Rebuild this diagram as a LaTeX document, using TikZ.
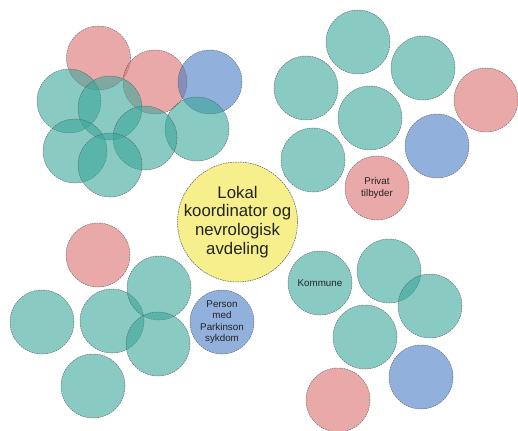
\documentclass[tikz,border=0pt]{standalone}
\usepackage{fontspec}
\setmainfont{Liberation Sans}
\definecolor{tealc}{RGB}{58,166,154}
\definecolor{pinkc}{RGB}{220,112,112}
\definecolor{bluec}{RGB}{72,124,197}
\definecolor{yellowc}{RGB}{246,239,140}
\definecolor{edgec}{RGB}{85,90,90}
\definecolor{txtc}{RGB}{35,35,35}
\tikzset{
  blob/.style={circle, minimum size=64pt, inner sep=-5pt, draw=edgec,
    line width=0.5pt, dash pattern=on 1.6pt off 0.9pt, fill opacity=0.6,
    draw opacity=0.8, text opacity=1, text=txtc, align=center,
    font=\fontsize{9.8}{11.5}\selectfont},
  tealb/.style={blob, fill=tealc},
  pinkb/.style={blob, fill=pinkc},
  blueb/.style={blob, fill=bluec},
  centre/.style={circle, minimum size=120pt, inner sep=-15pt, draw=edgec,
    line width=0.5pt, dash pattern=on 1.6pt off 0.9pt, fill=yellowc,
    text=txtc, align=center, font=\fontsize{16.8}{18.8}\selectfont}
}
\begin{document}
\begin{tikzpicture}[x=1pt,y=-1pt]
\useasboundingbox (0,0) rectangle (518,430);
% top-left cluster
\node[pinkb] (tl1) at (98.5,58) {};
\node[pinkb] (tl2) at (155,82) {};
\node[blueb] (tl3) at (210,82) {};
\node[tealb] (tl4) at (69,101) {};
\node[tealb] (tl5) at (110,108) {};
\node[tealb] (tl6) at (197,129) {};
\node[tealb] (tl7) at (145,138) {};
\node[tealb] (tl8) at (75,151) {};
\node[tealb] (tl9) at (110,165) {};
% top-right cluster
\node[tealb] (tr1) at (358,42) {};
\node[tealb] (tr2) at (306,88) {};
\node[tealb] (tr3) at (423,68) {};
\node[tealb] (tr4) at (370,118) {};
\node[pinkb] (tr5) at (486,100) {};
\node[tealb] (tr6) at (313,160) {};
\node[blueb] (tr7) at (437,146) {};
\node[pinkb] (tr8) at (377,188) {Privat\\tilbyder};
% bottom-left cluster
\node[pinkb] (bl1) at (98,255) {};
\node[tealb] (bl2) at (42,322) {};
\node[tealb] (bl3) at (112,321) {};
\node[tealb] (bl4) at (159,288) {};
\node[tealb] (bl5) at (158,344) {};
\node[tealb] (bl6) at (93,386) {};
\node[blueb] (bl7) at (222,322) {Person\\med\\Parkinson\\sykdom};
% bottom-right cluster
\node[tealb] (br1) at (320,283) {Kommune};
\node[tealb] (br2) at (389,271) {};
\node[tealb] (br3) at (430,306) {};
\node[tealb] (br4) at (365,337) {};
\node[blueb] (br5) at (421,377) {};
\node[pinkb] (br6) at (338,400) {};
% centre
\node[centre] (c) at (237.5,222) {Lokal\\koordinator og\\nevrologisk\\avdeling};
\end{tikzpicture}
\end{document}
